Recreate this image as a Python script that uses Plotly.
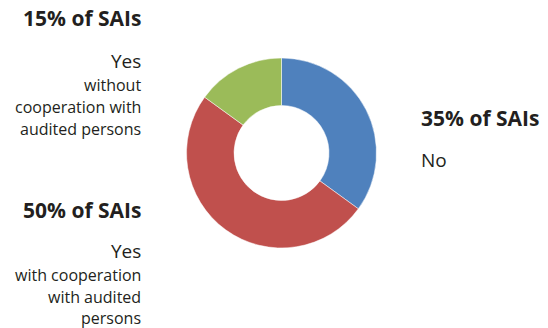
import plotly.graph_objects as go

labels = ["No", "Yes with cooperation", "Yes without cooperation"]
values = [35, 50, 15]
colors = ["#4F81BD", "#C0504D", "#9BBB59"]

W, H = 548, 328
fig = go.Figure(go.Pie(
    labels=labels, values=values, sort=False, direction="clockwise", rotation=0,
    hole=0.5, marker=dict(colors=colors, line=dict(color="white", width=0.5)),
    textinfo="none", hoverinfo="label+value", showlegend=False,
    domain=dict(x=[186 / W, 377 / W], y=[1 - 248 / H, 1 - 58 / H]),
))

font = "Open Sans"
txt_color = "#231F20"
B, L, S = 21, 19, 16
# (text, x_px, y_px, size, bold, anchor)
texts = [
    ("15% of SAIs", 143, 18, B, True, "right"),
    ("Yes", 143, 61, L, False, "right"),
    ("without", 143, 85, S, False, "right"),
    ("cooperation with", 143, 107, S, False, "right"),
    ("audited persons", 143, 129, S, False, "right"),
    ("50% of SAIs", 143, 210, B, True, "right"),
    ("Yes", 143, 251, L, False, "right"),
    ("with cooperation", 143, 275, S, False, "right"),
    ("with audited", 143, 297, S, False, "right"),
    ("persons", 143, 318, S, False, "right"),
    ("35% of SAIs", 419, 118, B, True, "left"),
    ("No", 419, 160, L, False, "left"),
]
anns = []
for t, x, y, s, b, a in texts:
    anns.append(dict(
        text=f"<b>{t}</b>" if b else t, x=x / W, y=1 - y / H, xref="paper", yref="paper",
        xanchor=a, yanchor="middle", showarrow=False,
        font=dict(family=font, size=s, color=txt_color),
    ))

fig.update_layout(
    width=W, height=H, margin=dict(l=0, r=0, t=0, b=0),
    paper_bgcolor="white", plot_bgcolor="white", annotations=anns,
)
fig.write_html("out.html")
